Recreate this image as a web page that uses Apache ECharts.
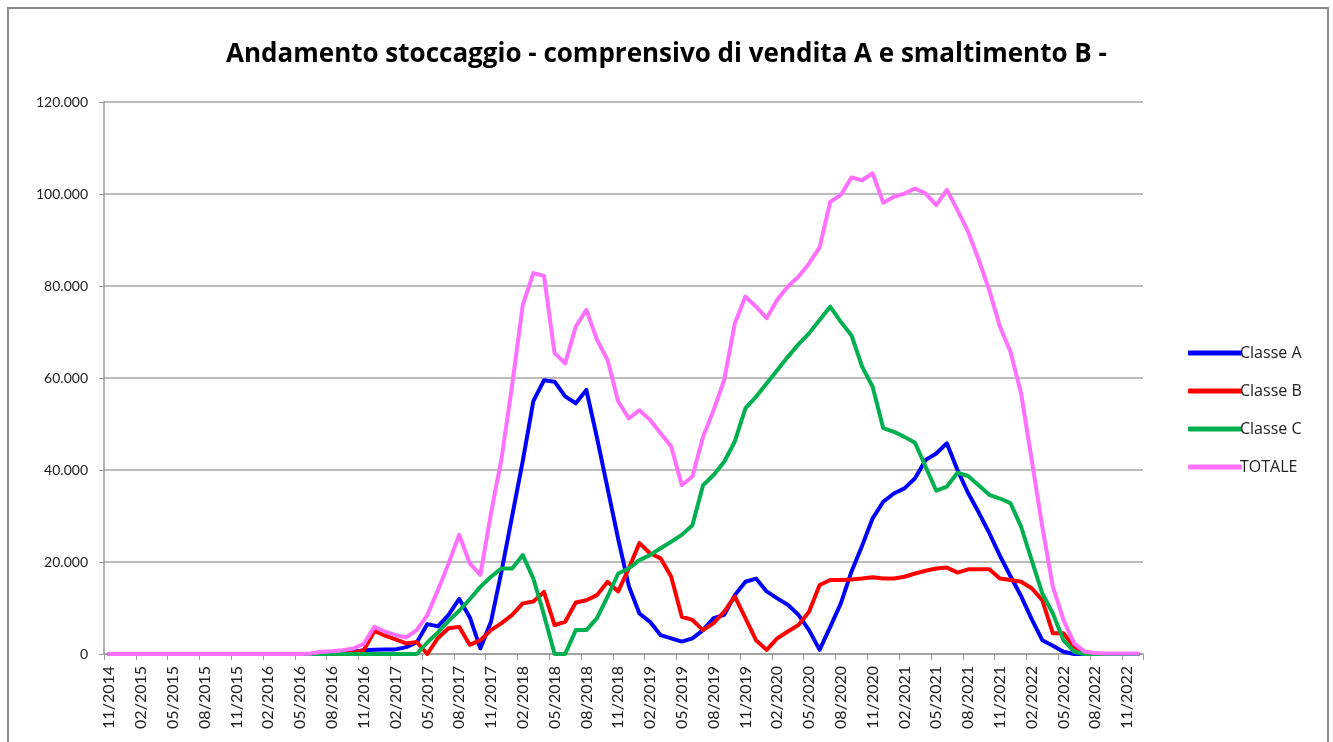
<!DOCTYPE html>
<html>
<head>
<meta charset="utf-8">
<title>Andamento stoccaggio</title>
<script src="https://cdn.jsdelivr.net/npm/echarts@6/dist/echarts.min.js"></script>
<style>
  html, body { margin: 0; padding: 0; background: #fff; }
  #chart { width: 1333px; height: 742px; }
</style>
</head>
<body>
<div id="chart"></div>
<script>
// valori in migliaia, un punto al mese da 11/2014
const classeA = [
  0, 0, 0, 0, 0, 0, 0, 0, 0, 0, 0, 0, 0, 0, 0, 0, 0, 0, 0, 0, 0,
  0.2, 0.3, 0.5, 0.8, 0.9, 1.0, 1.0, 1.5, 2.5, 6.5, 6.0, 8.5, 12.0, 8.0, 1.2,
  7.0, 18.0, 30.0, 42.0, 55.0, 59.5, 59.2, 56.0, 54.5, 57.4, 47.0, 36.0, 25.0, 14.8,
  8.8, 7.0, 4.1, 3.4, 2.7, 3.4, 5.2, 7.8, 8.5, 12.8, 15.7, 16.4, 13.6, 12.1, 10.7,
  8.5, 5.2, 0.9, 5.9, 11.0, 17.9, 23.5, 29.5, 33.1, 34.9, 36.0, 38.2, 42.2, 43.6,
  45.8, 40.0, 35.0, 30.8, 26.3, 21.4, 16.9, 12.6, 7.6, 3.0, 1.8, 0.5,
  0, 0, 0, 0, 0, 0, 0
];
const classeB = [
  0, 0, 0, 0, 0, 0, 0, 0, 0, 0, 0, 0, 0, 0, 0, 0, 0, 0, 0, 0, 0, 0, 0,
  0.3, 0.8, 5.0, 4.0, 3.2, 2.3, 2.6, 0, 3.5, 5.6, 5.9, 2.0, 3.0, 5.2, 6.7, 8.5,
  11.0, 11.4, 13.5, 6.3, 7.0, 11.2, 11.7, 12.8, 15.7, 13.6, 18.6, 24.1, 21.9, 20.8,
  16.8, 8.1, 7.4, 5.2, 6.7, 9.2, 12.5, 7.8, 3.0, 0.9, 3.4, 4.9, 6.3, 9.2, 15.0,
  16.1, 16.1, 16.2, 16.4, 16.7, 16.4, 16.4, 16.8, 17.5, 18.1, 18.6, 18.8, 17.7,
  18.4, 18.4, 18.4, 16.4, 16.1, 15.7, 14.3, 11.7, 4.5, 4.5, 1.6, 0.1,
  0, 0, 0, 0, 0
];
const classeC = [
  0, 0, 0, 0, 0, 0, 0, 0, 0, 0, 0, 0, 0, 0, 0, 0, 0, 0, 0, 0, 0, 0, 0, 0, 0, 0, 0, 0, 0, 0,
  2.5, 4.7, 7.2, 9.4, 11.9, 14.6, 16.8, 18.6, 18.6, 21.5, 16.4, 8.5, 0, 0, 5.2, 5.2,
  7.8, 12.5, 17.5, 18.6, 20.4, 21.5, 23.0, 24.4, 25.9, 28.0, 36.7, 38.9, 41.8, 46.2,
  53.4, 55.9, 58.8, 61.7, 64.6, 67.3, 69.7, 72.6, 75.5, 72.2, 69.3, 62.5, 58.1,
  49.1, 48.3, 47.2, 45.9, 40.7, 35.5, 36.4, 39.4, 38.7, 36.7, 34.6, 33.8, 32.8,
  27.7, 20.4, 13.2, 8.8, 3.0, 0.5,
  0, 0, 0, 0, 0, 0
];
const totale = [
  0, 0, 0, 0, 0, 0, 0, 0, 0, 0, 0, 0, 0, 0, 0, 0, 0, 0, 0,
  0.1, 0.5, 0.6, 0.8, 1.2, 2.2, 5.9, 4.9, 4.1, 3.6, 5.2, 8.5, 13.9, 19.7, 25.9,
  19.7, 17.2, 30.6, 42.5, 58.5, 75.9, 82.8, 82.2, 65.4, 63.2, 71.2, 74.8, 68.3,
  63.9, 54.9, 51.2, 53.0, 50.9, 48.0, 45.1, 36.7, 38.6, 47.2, 53.0, 59.6, 71.9,
  77.7, 75.5, 73.0, 77.0, 79.9, 82.0, 84.9, 88.4, 98.3, 99.8, 103.6, 103.0, 104.5,
  98.1, 99.4, 100.1, 101.2, 100.1, 97.6, 100.9, 96.5, 91.8, 85.7, 79.1, 71.2,
  65.7, 56.7, 42.2, 27.7, 14.6, 7.4, 2.3, 0.5, 0.2, 0.1, 0.1, 0.1, 0.1
];

// mesi mm/yyyy da 11/2014
const mesi = [];
for (let k = 0; k < totale.length; k++) {
  let m = (10 + k) % 12 + 1;
  let y = 2014 + Math.floor((10 + k) / 12);
  mesi.push((m < 10 ? '0' + m : '' + m) + '/' + y);
}

const titolo = 'Andamento stoccaggio - comprensivo di vendita A e smaltimento B -';
const colori = ['#0000ff', '#ff0000', '#00b050', '#ff70ff'];

let chart = echarts.init(document.getElementById('chart'));

function serie(name, data, color) {
  return {
    name: name,
    type: 'line',
    data: data,
    symbol: 'none',
    smooth: false,
    animation: false,
    lineStyle: { width: 4, color: color, cap: 'round', join: 'round' },
    itemStyle: { color: color }
  };
}

let option = {
  animation: false,
  backgroundColor: '#fff',
  textStyle: { fontFamily: 'Lato' },
  title: {
    text: titolo,
    left: 'center',
    top: 37,
    textStyle: { fontFamily: 'Open Sans', fontWeight: 'bold', fontSize: 26, color: '#000' }
  },
  grid: { left: 104, right: 190, top: 102, bottom: 88 },
  legend: {
    orient: 'vertical',
    left: 1183,
    top: 339,
    itemWidth: 54,
    itemHeight: 5,
    itemGap: 20,
    icon: 'roundRect',
    textStyle: { fontFamily: 'Open Sans', fontSize: 16, color: '#222', lineHeight: 18, padding: [0, 0, 0, -7] },
    data: ['Classe A', 'Classe B', 'Classe C', 'TOTALE']
  },
  xAxis: {
    type: 'category',
    data: mesi,
    boundaryGap: true,
    axisLine: { lineStyle: { color: '#9a9a9a', width: 1.5 } },
    axisTick: { show: true, interval: 2, length: 6, lineStyle: { color: '#9a9a9a' } },
    axisLabel: { interval: 2, rotate: 90, margin: 12, fontFamily: 'Lato', fontSize: 16, color: '#222' },
    splitLine: { show: false }
  },
  yAxis: {
    type: 'value',
    min: 0,
    max: 120,
    interval: 20,
    axisLine: { show: true, lineStyle: { color: '#9a9a9a', width: 1.5 } },
    axisTick: { show: true, length: 5, lineStyle: { color: '#9a9a9a' } },
    axisLabel: {
      margin: 16, fontFamily: 'Lato', fontSize: 14, color: '#222',
      formatter: function (v) { return v === 0 ? '0' : v + '.000'; }
    },
    splitLine: { show: true, lineStyle: { color: '#a6a6a6', width: 1.5 } }
  },
  graphic: [{
    type: 'rect',
    shape: { x: 8, y: 8, width: 1320, height: 760 },
    style: { fill: 'none', stroke: '#8c8c8c', lineWidth: 2 },
    silent: true
  }],
  series: [
    serie('Classe A', classeA, colori[0]),
    serie('Classe B', classeB, colori[1]),
    serie('Classe C', classeC, colori[2]),
    serie('TOTALE', totale, colori[3])
  ]
};

chart.setOption(option);
</script>
</body>
</html>
